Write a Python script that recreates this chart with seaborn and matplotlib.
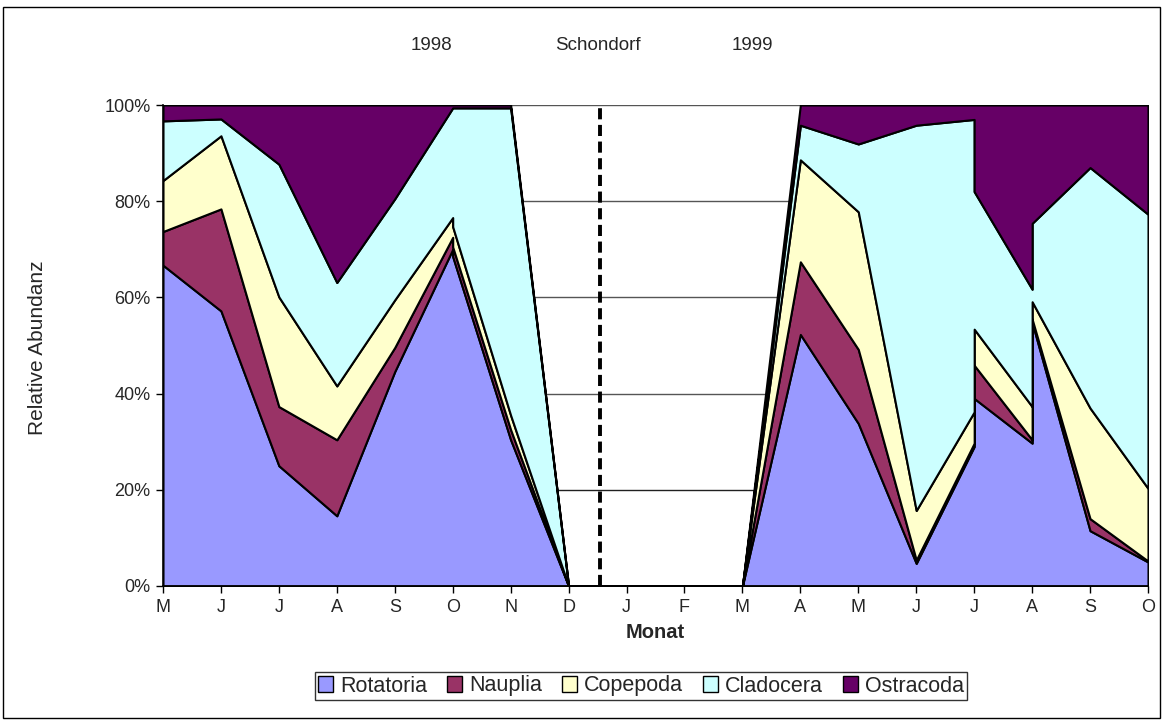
import matplotlib
matplotlib.use("Agg")
import matplotlib.pyplot as plt
import seaborn as sns
import numpy as np
import pandas as pd
from matplotlib.patches import Patch, Rectangle

# Month ticks from May 1998 to October 1999
month_labels = ["M", "J", "J", "A", "S", "O", "N", "D", "J", "F",
                "M", "A", "M", "J", "J", "A", "S", "O"]

# Month index of each sample (October 1998, July and August 1999 were sampled twice)
sample_month = [0, 1, 2, 3, 4, 5, 5, 6, 7, 8, 9, 10, 11, 12, 13, 14, 14, 15, 15, 16, 17]

# Relative abundance per group (%)
rotatoria = [66.7, 57.2, 25.0, 14.6, 44.6, 70.0, 68.5, 30.4, 0, 0, 0, 0,
             52.3, 33.8, 4.7, 29.0, 39.0, 29.7, 54.8, 11.5, 5.0]
nauplia = [7.0, 21.2, 12.3, 15.8, 5.0, 2.5, 2.0, 2.1, 0, 0, 0, 0,
           15.1, 15.4, 0.7, 0.7, 6.9, 0.7, 0.7, 2.5, 0.2]
copepoda = [10.6, 15.2, 22.8, 11.2, 9.9, 4.1, 4.2, 3.0, 0, 0, 0, 0,
            21.2, 28.6, 10.3, 6.5, 7.5, 6.9, 3.6, 23.0, 15.1]
cladocera = [12.4, 3.5, 27.6, 21.5, 21.0, 22.8, 24.7, 63.9, 0, 0, 0, 0,
             7.2, 14.1, 80.1, 60.8, 28.6, 24.4, 16.3, 50.0, 57.0]
ostracoda = [3.3, 2.9, 12.3, 36.9, 19.5, 0.6, 0.6, 0.6, 0, 0, 0, 0,
             4.2, 8.1, 4.2, 3.0, 18.0, 38.3, 24.6, 13.0, 22.7]

groups = ["Rotatoria", "Nauplia", "Copepoda", "Cladocera", "Ostracoda"]
colors = ["#9999FF", "#993366", "#FFFFCC", "#CCFFFF", "#660066"]

y_ticks = [0, 20, 40, 60, 80, 100]
y_ticklabels = ["0%", "20%", "40%", "60%", "80%", "100%"]

df = pd.DataFrame({"month": sample_month, "Rotatoria": rotatoria, "Nauplia": nauplia,
                   "Copepoda": copepoda, "Cladocera": cladocera, "Ostracoda": ostracoda})

sns.set_theme(style="white")
plt.rcParams["font.family"] = ["Liberation Sans", "DejaVu Sans"]
plt.rcParams["lines.scale_dashes"] = False

W, H = 1165, 725
fig = plt.figure(figsize=(W / 100, H / 100), dpi=100)
ax = fig.add_axes([163 / W, 1 - 586 / H, (1148 - 163) / W, (586 - 105) / H])

# horizontal grid behind the areas
for yv in y_ticks[1:]:
    ax.axhline(yv, color="#555555" if yv > 20 else "#202020", lw=1.0, zorder=0)

ax.stackplot(df["month"], [df[g] for g in groups], colors=colors,
             edgecolor="black", linewidth=1.5, zorder=2)

# season break between 1998 and 1999
ax.plot([7.55, 7.55], [0, 100], color="black", lw=2.8, dashes=(8, 4), zorder=3)

ax.set_xlim(0, len(month_labels) - 1)
ax.set_ylim(0, 100)
ax.set_xticks(range(len(month_labels)))
ax.set_xticklabels(month_labels, fontsize=13)
ax.set_yticks(y_ticks)
ax.set_yticklabels(y_ticklabels, fontsize=13)
ax.tick_params(axis="both", direction="out", length=5, width=1, color="black",
               bottom=True, left=True, pad=4)
sns.despine(ax=ax)
for s in ["left", "bottom"]:
    ax.spines[s].set_color("black")
    ax.spines[s].set_linewidth(1.2)
    ax.spines[s].set_zorder(4)

fig.text(655 / W, 1 - 632 / H, "Monat", ha="center", va="center",
         fontsize=14.5, fontweight="bold")
fig.text(38 / W, 1 - 348 / H, "Relative Abundanz", ha="center", va="center",
         rotation=90, fontsize=15)

fig.text(431 / W, 1 - 45 / H, "1998", ha="center", va="center", fontsize=13.5)
fig.text(598 / W, 1 - 45 / H, "Schondorf", ha="center", va="center", fontsize=13.5)
fig.text(752 / W, 1 - 45 / H, "1999", ha="center", va="center", fontsize=13.5)

handles = [Patch(facecolor=c, edgecolor="black", linewidth=1.0) for c in colors]
leg = fig.legend(handles, groups, loc="center", bbox_to_anchor=(641 / W, 1 - 686 / H),
                 ncol=5, fontsize=15.5, frameon=True, fancybox=False,
                 handlelength=0.7, handleheight=0.7, handletextpad=0.3,
                 columnspacing=0.95, borderpad=0.15, borderaxespad=0)
leg.get_frame().set_edgecolor("black")
leg.get_frame().set_linewidth(1.0)

# outer chart border
fig.patches.append(Rectangle((3 / W, 1 - 718 / H), (1160 - 3) / W, (718 - 7) / H,
                             transform=fig.transFigure, fill=False,
                             edgecolor="black", linewidth=1.0))

fig.savefig("out.png", dpi=100)
